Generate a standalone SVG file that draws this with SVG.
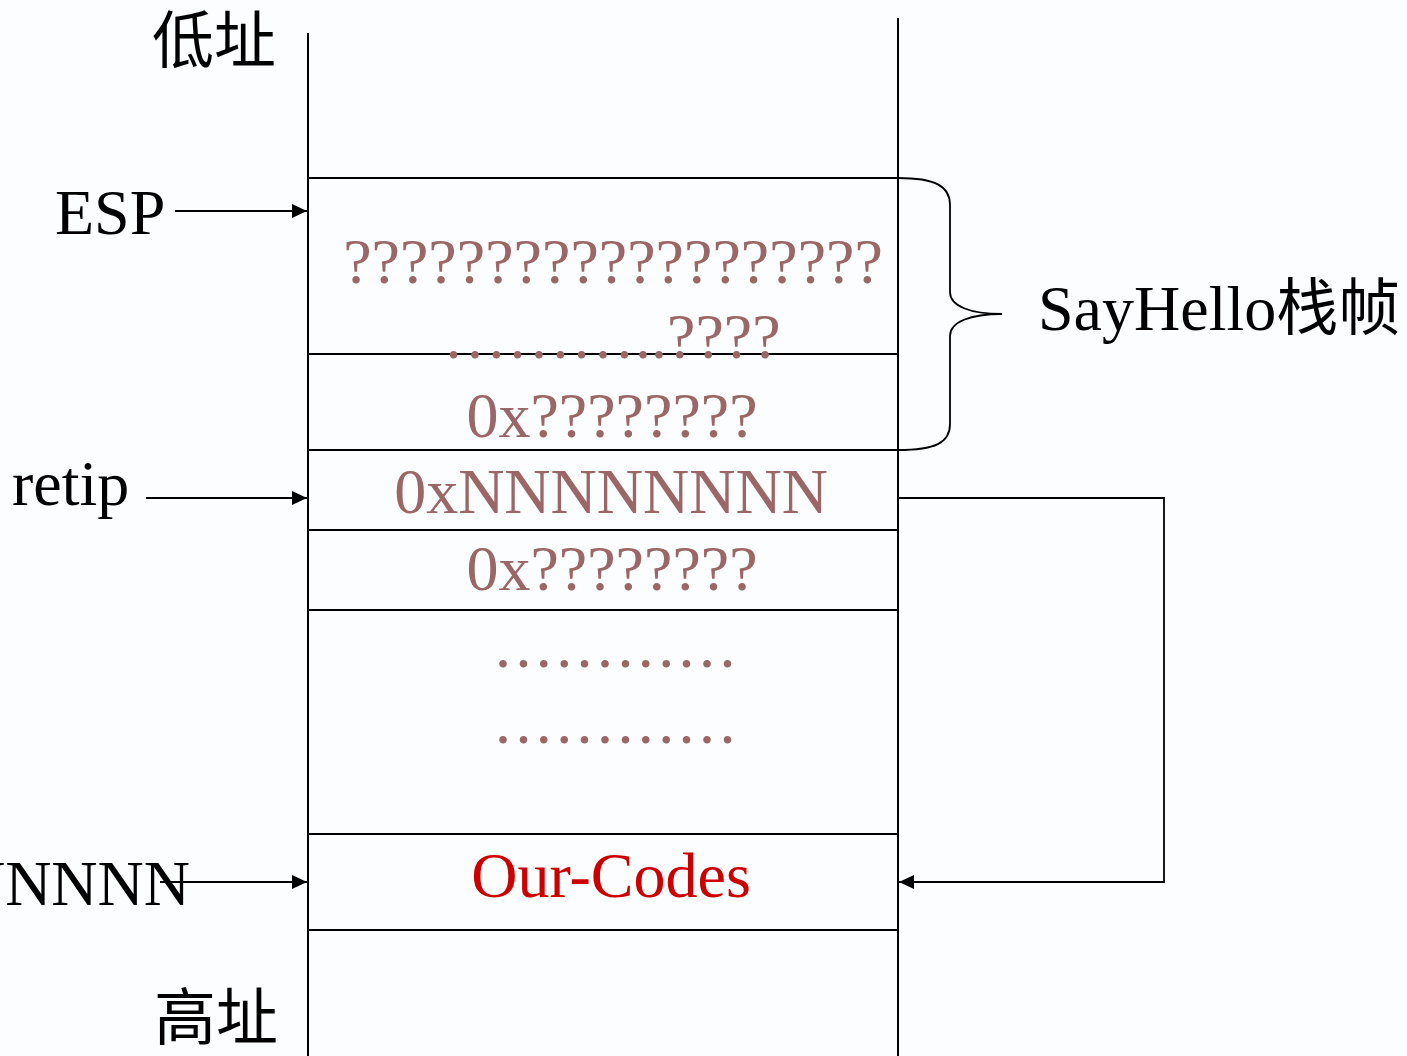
<svg xmlns="http://www.w3.org/2000/svg" width="1407" height="1056" viewBox="0 0 1407 1056">
  <style>
    .bg { fill: #fbfdfe; }
    .ln { stroke: #000; stroke-width: 2; fill: none; }
    .cn { stroke: #000; stroke-width: 1.8; fill: none; }
    .lbl { font-family: "Liberation Serif", "Noto Sans CJK SC", serif; font-size: 64px; fill: #000; }
    .cjk { font-family: "Noto Sans CJK SC", "Liberation Serif", serif; font-size: 62px; fill: #000; }
    .cell { font-family: "Liberation Serif", serif; font-size: 64px; fill: #9b6666; text-anchor: middle; }
    .dots { font-family: "Liberation Serif", serif; font-size: 64px; fill: #9b6666; letter-spacing: 4.4px; }
    .code { font-family: "Liberation Serif", serif; font-size: 64px; fill: #cc0000; text-anchor: middle; }
  </style>
  <defs>
    <marker id="arrow" viewBox="0 0 15 14" refX="15" refY="7" markerWidth="15" markerHeight="14" markerUnits="userSpaceOnUse" orient="auto">
      <path d="M0,0 L15,7 L0,14 Z" fill="#000"/>
    </marker>
  </defs>

  <rect class="bg" x="0" y="0" width="1407" height="1056"/>

  <!-- stack column -->
  <g id="stack">
    <line class="ln" x1="308" y1="33" x2="308" y2="1056"/>
    <line class="ln" x1="898" y1="18" x2="898" y2="1056"/>
    <line class="ln" x1="308" y1="178" x2="898" y2="178"/>
    <line class="ln" x1="308" y1="354" x2="898" y2="354"/>
    <line class="ln" x1="308" y1="450" x2="898" y2="450"/>
    <line class="ln" x1="308" y1="530" x2="898" y2="530"/>
    <line class="ln" x1="308" y1="610" x2="898" y2="610"/>
    <line class="ln" x1="308" y1="834" x2="898" y2="834"/>
    <line class="ln" x1="308" y1="930" x2="898" y2="930"/>
  </g>

  <!-- cell contents -->
  <g id="cell-locals">
    <text class="cell" x="613" y="283">???????????????????</text>
    <text class="cell" x="443" y="358" style="text-anchor:start">………..????</text>
  </g>
  <g id="cell-ebp">
    <text class="cell" x="612" y="437">0x????????</text>
  </g>
  <g id="cell-retip">
    <text class="cell" x="611" y="513">0xNNNNNNNN</text>
  </g>
  <g id="cell-arg">
    <text class="cell" x="612" y="590">0x????????</text>
  </g>
  <g id="cell-gap">
    <text class="dots" x="495" y="667">............</text>
    <text class="dots" x="495" y="743">............</text>
  </g>
  <g id="cell-code">
    <text class="code" x="611" y="897">Our-Codes</text>
  </g>

  <!-- side labels -->
  <g id="label-low"><text class="cjk" x="152" y="63">低址</text></g>
  <g id="label-high"><text class="cjk" x="154" y="1040">高址</text></g>
  <g id="label-esp"><text class="lbl" x="55" y="234">ESP</text></g>
  <g id="label-retip"><text class="lbl" x="12" y="505">retip</text></g>
  <g id="label-target"><text class="lbl" x="190" y="905" style="text-anchor:end">NNNNN</text></g>
  <g id="label-frame">
    <text class="lbl" x="1038" y="330">SayHello<tspan style="font-family:'Noto Sans CJK SC', sans-serif; font-size:62px">栈帧</tspan></text>
  </g>

  <!-- connectors -->
  <g id="connectors">
    <line class="cn" x1="175" y1="211" x2="307" y2="211" marker-end="url(#arrow)"/>
    <line class="cn" x1="146" y1="498" x2="307" y2="498" marker-end="url(#arrow)"/>
    <line class="cn" x1="160" y1="882" x2="307" y2="882" marker-end="url(#arrow)"/>
    <polyline class="cn" points="898,498 1164,498 1164,882 899,882" marker-end="url(#arrow)"/>
    <!-- brace around the SayHello frame -->
    <path class="cn" d="M898,178 C935,178 950,186 950,205 L950,292 C950,306 970,314 1002,314 C970,314 950,322 950,336 L950,424 C950,443 935,450 898,450"/>
  </g>
</svg>
